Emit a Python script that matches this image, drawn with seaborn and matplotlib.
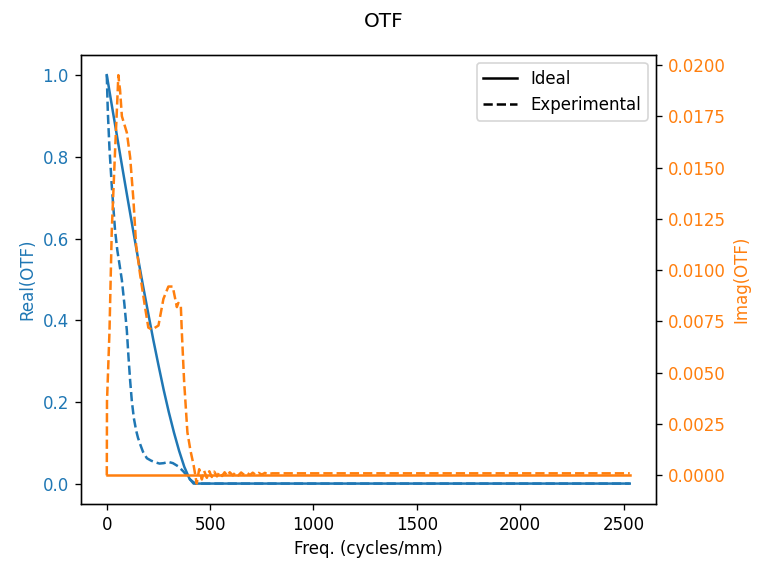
import numpy as np
import pandas as pd
import matplotlib
matplotlib.use('Agg')
import matplotlib.pyplot as plt
import seaborn as sns
from matplotlib.lines import Line2D

# ================= 数据 =================
# 理想 OTF (衍射极限)
freq_ideal = [0, 25, 50, 75, 100, 125, 150, 175, 200, 225, 250, 275, 300,
              325, 350, 375, 400, 420, 2530]
real_ideal = [1.0, 0.924, 0.849, 0.774, 0.700, 0.627, 0.555, 0.485, 0.418,
              0.352, 0.290, 0.230, 0.175, 0.125, 0.080, 0.041, 0.012, 0.0, 0.0]
imag_ideal = [0.0] * len(freq_ideal)

# 实测 OTF 实部
freq_exp_real = [0, 5, 13, 24, 40, 51, 62, 73, 85, 97, 105, 113, 121, 131,
                 142, 151, 161, 175, 194, 215, 235, 255, 275, 298, 320, 346,
                 370, 387, 403, 420, 432, 2530]
real_exp = [1.0, 0.91, 0.82, 0.73, 0.62, 0.571, 0.535, 0.498, 0.44, 0.375,
            0.31, 0.252, 0.203, 0.16, 0.13, 0.112, 0.097, 0.078, 0.062, 0.056,
            0.052, 0.049, 0.05, 0.053, 0.05, 0.042, 0.03, 0.02, 0.01, 0.003,
            0.0, 0.0]

# 实测 OTF 虚部 (截止频率后有小幅振荡)
freq_exp_imag = [0, 1, 13, 24, 40, 51, 56, 60, 64, 73, 97, 113, 129, 142,
                 161, 185, 201, 218, 250, 274, 298, 319, 339, 346, 358, 363,
                 374, 390, 405, 420, 435, 447, 460, 471, 484, 496, 508, 520,
                 533, 545, 558, 570, 583, 595, 610, 622, 637, 650, 665, 678,
                 693, 706, 720, 735, 750, 765, 780, 800, 2530]
imag_exp = [0.0, 0.0036, 0.0070, 0.0119, 0.0158, 0.0183, 0.0195, 0.0191,
            0.0188, 0.0175, 0.0167, 0.0155, 0.0134, 0.0112, 0.0098, 0.0082,
            0.0072, 0.0071, 0.0073, 0.0086, 0.0092, 0.0092, 0.0082, 0.0084,
            0.0083, 0.0070, 0.0046, 0.0021, 0.0012, 0.0005, -0.0004, 0.0003,
            -0.0002, 0.00022, -0.00012, 0.0002, -0.00008, 0.00018, -0.00005,
            0.00016, -0.00003, 0.00015, -0.00002, 0.00015, 0.0, 0.00014,
            0.0, 0.00014, 0.00002, 0.00013, 0.00002, 0.00013, 0.00003,
            0.00012, 0.00004, 0.00012, 0.00005, 0.0001, 0.0001]

# ================= 绘图 =================
fig, ax = plt.subplots(figsize=(6.4, 4.8), dpi=120)
ax2 = ax.twinx()

# 实部 (左轴)
sns.lineplot(x=freq_ideal, y=real_ideal, ax=ax, color='C0', linestyle='-')
sns.lineplot(x=freq_exp_real, y=real_exp, ax=ax, color='C0', linestyle='--')

# 虚部 (右轴)
sns.lineplot(x=freq_ideal, y=imag_ideal, ax=ax2, color='C1', linestyle='-')
sns.lineplot(x=freq_exp_imag, y=imag_exp, ax=ax2, color='C1', linestyle='--')

ax.set_xlabel('Freq. (cycles/mm)')
ax.set_ylabel('Real(OTF)', color='C0')
ax2.set_ylabel('Imag(OTF)', color='C1')
ax.tick_params(axis='y', labelcolor='C0')
ax2.tick_params(axis='y', labelcolor='C1')

# 图例: 线型说明
handles = [Line2D([], [], color='black', linestyle='-', label='Ideal'),
           Line2D([], [], color='black', linestyle='--', label='Experimental')]
ax2.legend(handles=handles, loc='upper right')

fig.suptitle('OTF')
fig.subplots_adjust(left=0.105, right=0.854, bottom=0.125, top=0.905)
fig.savefig('out.png', dpi=120)
